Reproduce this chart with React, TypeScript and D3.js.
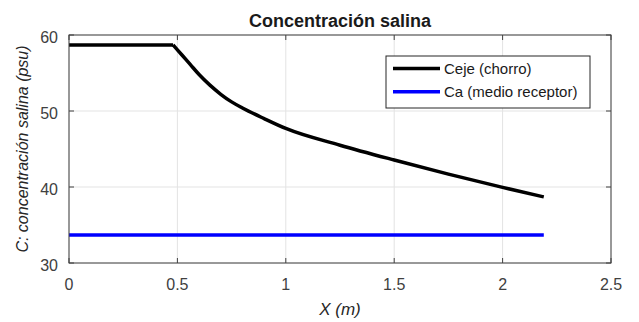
import { useRef, useEffect } from "react";
import * as d3 from "d3";

// Ceje (chorro)
const xCeje = [0, 0.2, 0.4, 0.48, 0.52, 0.56, 0.6, 0.65, 0.7, 0.75, 0.8, 0.9, 1.0, 1.25, 1.5, 1.75, 2.0, 2.19];
const yCeje = [58.7, 58.7, 58.7, 58.7, 57.4, 56.1, 54.8, 53.4, 52.2, 51.2, 50.4, 49.0, 47.7, 45.5, 43.55, 41.7, 39.95, 38.7];
// Ca (medio receptor)
const xCa = [0, 2.19];
const yCa = [33.7, 33.7];

const xTicks = [0, 0.5, 1, 1.5, 2, 2.5];
const yTicks = [30, 40, 50, 60];

const W = 639;
const H = 322;
const margin = { top: 35, right: 28, bottom: 59, left: 69 };

const App = () => {
  const svgRef = useRef<SVGSVGElement>(null);

  useEffect(() => {
    const svg = d3.select(svgRef.current);
    svg.selectAll("*").remove();

    const cw = W - margin.left - margin.right;
    const ch = H - margin.top - margin.bottom;
    const font = "'Liberation Sans', Arial, sans-serif";
    const axisColor = "#404040";

    const x = d3.scaleLinear().domain([0, 2.5]).range([0, cw]);
    const y = d3.scaleLinear().domain([30, 60]).range([ch, 0]);

    svg.append("rect").attr("width", W).attr("height", H).attr("fill", "#fff");

    const g = svg.append("g").attr("transform", `translate(${margin.left},${margin.top})`);

    // grid
    g.selectAll(".gx")
      .data(xTicks)
      .enter()
      .append("line")
      .attr("x1", (d) => x(d))
      .attr("x2", (d) => x(d))
      .attr("y1", 0)
      .attr("y2", ch)
      .attr("stroke", "#e3e3e3")
      .attr("stroke-width", 1);
    g.selectAll(".gy")
      .data(yTicks)
      .enter()
      .append("line")
      .attr("x1", 0)
      .attr("x2", cw)
      .attr("y1", (d) => y(d))
      .attr("y2", (d) => y(d))
      .attr("stroke", "#e3e3e3")
      .attr("stroke-width", 1);

    // series
    const line = d3
      .line<[number, number]>()
      .x((d) => x(d[0]))
      .y((d) => y(d[1]));
    const smooth = d3
      .line<[number, number]>()
      .x((d) => x(d[0]))
      .y((d) => y(d[1]))
      .curve(d3.curveMonotoneX);

    g.append("path")
      .datum(xCa.map((v, i) => [v, yCa[i]] as [number, number]))
      .attr("fill", "none")
      .attr("stroke", "#0000ff")
      .attr("stroke-width", 3.5)
      .attr("d", line);

    // flat part stays straight, the decay after the knee is smoothed
    const ceje = xCeje.map((v, i) => [v, yCeje[i]] as [number, number]);
    const knee = xCeje.indexOf(0.48);
    g.append("path")
      .datum(ceje.slice(0, knee + 1))
      .attr("fill", "none")
      .attr("stroke", "#000")
      .attr("stroke-width", 3.5)
      .attr("d", line);
    g.append("path")
      .datum(ceje.slice(knee))
      .attr("fill", "none")
      .attr("stroke", "#000")
      .attr("stroke-width", 3.5)
      .attr("stroke-linejoin", "round")
      .attr("d", smooth);

    // axes box + inward ticks
    const tl = 5;
    const ax = g.append("g").attr("stroke", axisColor).attr("stroke-width", 1);
    ax.append("rect").attr("x", 0).attr("y", 0).attr("width", cw).attr("height", ch).attr("fill", "none");
    xTicks.forEach((t) => {
      ax.append("line").attr("x1", x(t)).attr("x2", x(t)).attr("y1", ch).attr("y2", ch - tl);
      ax.append("line").attr("x1", x(t)).attr("x2", x(t)).attr("y1", 0).attr("y2", tl);
    });
    yTicks.forEach((t) => {
      ax.append("line").attr("x1", 0).attr("x2", tl).attr("y1", y(t)).attr("y2", y(t));
      ax.append("line").attr("x1", cw).attr("x2", cw - tl).attr("y1", y(t)).attr("y2", y(t));
    });

    // tick labels
    g.selectAll(".xt")
      .data(xTicks)
      .enter()
      .append("text")
      .attr("x", (d) => x(d))
      .attr("y", ch + 27)
      .attr("text-anchor", "middle")
      .style("font-family", font)
      .style("font-size", "16px")
      .style("fill", axisColor)
      .text((d) => String(d));
    g.selectAll(".yt")
      .data(yTicks)
      .enter()
      .append("text")
      .attr("x", -11)
      .attr("y", (d) => y(d) + 8)
      .attr("text-anchor", "end")
      .style("font-family", font)
      .style("font-size", "16px")
      .style("fill", axisColor)
      .text((d) => String(d));

    // title and axis labels
    svg.append("text")
      .attr("x", margin.left + cw / 2)
      .attr("y", 27)
      .attr("text-anchor", "middle")
      .style("font-family", font)
      .style("font-size", "18px")
      .style("font-weight", "bold")
      .style("fill", "#1a1a1a")
      .text("Concentración salina");

    svg.append("text")
      .attr("x", margin.left + cw / 2)
      .attr("y", 315)
      .attr("text-anchor", "middle")
      .style("font-family", font)
      .style("font-size", "17px")
      .style("font-style", "italic")
      .style("fill", "#262626")
      .text("X (m)");

    svg.append("text")
      .attr("transform", `translate(28,${margin.top + ch / 2}) rotate(-90)`)
      .attr("text-anchor", "middle")
      .style("font-family", font)
      .style("font-size", "16px")
      .style("font-style", "italic")
      .style("fill", "#262626")
      .text("C: concentración salina (psu)");

    // legend
    const lg = svg.append("g").attr("transform", "translate(386,56)");
    lg.append("rect")
      .attr("width", 204)
      .attr("height", 52)
      .attr("fill", "#fff")
      .attr("stroke", "#262626")
      .attr("stroke-width", 1);
    const items = [
      { label: "Ceje (chorro)", color: "#000" },
      { label: "Ca (medio receptor)", color: "#0000ff" },
    ];
    items.forEach((it, i) => {
      const yy = 12.5 + i * 23.2;
      lg.append("line")
        .attr("x1", 7)
        .attr("x2", 54)
        .attr("y1", yy)
        .attr("y2", yy)
        .attr("stroke", it.color)
        .attr("stroke-width", 3.5);
      lg.append("text")
        .attr("x", 58)
        .attr("y", yy + 5.5)
        .style("font-family", font)
        .style("font-size", "15px")
        .style("fill", "#1a1a1a")
        .text(it.label);
    });
  }, []);

  return (
    <svg
      ref={svgRef}
      width={W}
      height={H}
      style={{ position: "absolute", left: 0, top: 0 }}
    ></svg>
  );
};

export default App;
